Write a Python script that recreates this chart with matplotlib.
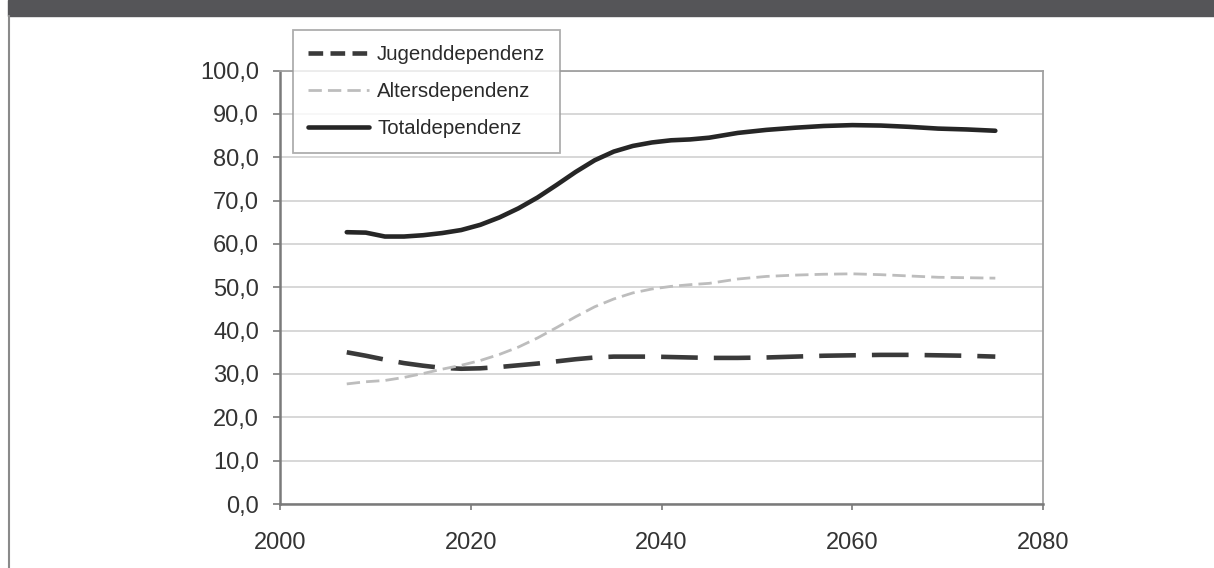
import matplotlib
matplotlib.use("Agg")
import matplotlib.pyplot as plt
from matplotlib.patches import Rectangle
from matplotlib.lines import Line2D
from matplotlib.ticker import FuncFormatter

plt.rcParams['font.family'] = ['Liberation Sans', 'DejaVu Sans']

# Jahre und Quotienten (in %)
jahre = [2007, 2009, 2011, 2013, 2015, 2017, 2019, 2021, 2023, 2025,
         2027, 2029, 2031, 2033, 2035, 2037, 2039, 2041, 2043, 2045,
         2048, 2051, 2054, 2057, 2060, 2063, 2066, 2069, 2072, 2075]
jugend = [35.0, 34.2, 33.3, 32.5, 31.9, 31.4, 31.2, 31.3, 31.6, 32.0,
          32.4, 32.9, 33.4, 33.8, 34.0, 34.0, 34.0, 33.9, 33.8, 33.7,
          33.7, 33.8, 34.0, 34.2, 34.3, 34.4, 34.4, 34.3, 34.2, 34.0]
alter = [27.7, 28.2, 28.5, 29.2, 30.1, 31.1, 32.0, 33.1, 34.5, 36.2,
         38.3, 40.7, 43.2, 45.5, 47.3, 48.7, 49.6, 50.2, 50.6, 50.9,
         51.9, 52.5, 52.8, 53.0, 53.1, 52.9, 52.6, 52.3, 52.2, 52.1]
total = [62.7, 62.6, 61.7, 61.7, 62.0, 62.5, 63.2, 64.4, 66.1, 68.2,
         70.7, 73.6, 76.6, 79.3, 81.3, 82.6, 83.4, 83.9, 84.1, 84.5,
         85.6, 86.3, 86.8, 87.2, 87.4, 87.3, 87.0, 86.6, 86.4, 86.1]

namen = ["Jugenddependenz", "Altersdependenz", "Totaldependenz"]
x_ticks = [2000, 2020, 2040, 2060, 2080]
y_ticks = [0, 10, 20, 30, 40, 50, 60, 70, 80, 90, 100]

fig = plt.figure(figsize=(12.14, 5.68), dpi=100)
fig.patch.set_facecolor("white")

# dunkler Balken oben und Rahmenlinie links
fig.patches.append(Rectangle((8 / 1214, 1 - 16 / 568), 1, 16 / 568,
                             transform=fig.transFigure, color="#555558", zorder=0))
fig.lines.append(Line2D([9 / 1214, 9 / 1214], [0, 1 - 16 / 568],
                        transform=fig.transFigure, color="#8a8a8a", lw=1.5))

ax = fig.add_axes([280 / 1214, 1 - 504 / 568, 763 / 1214, 433.5 / 568])

ax.plot(jahre, jugend, color="#3a3a3a", lw=3.3, dashes=(8.0, 3.5),
        solid_joinstyle="round", label=namen[0])
ax.plot(jahre, alter, color="#bdbdbd", lw=2.0, dashes=(4.8, 2.2),
        label=namen[1])
ax.plot(jahre, total, color="#262626", lw=3.3, solid_joinstyle="round",
        solid_capstyle="round", label=namen[2])

ax.set_xlim(2000, 2080)
ax.set_ylim(0, 100)
ax.set_xticks(x_ticks)
ax.set_yticks(y_ticks)
ax.yaxis.set_major_formatter(FuncFormatter(lambda v, p: f"{v:.1f}".replace(".", ",")))

ax.grid(axis="y", color="#d4d4d4", lw=1.3)
ax.set_axisbelow(True)

for s in ["left", "bottom"]:
    ax.spines[s].set_color("#7a7a7a")
    ax.spines[s].set_linewidth(1.8)
for s in ["top", "right"]:
    ax.spines[s].set_color("#a0a0a0")
    ax.spines[s].set_linewidth(1.3)

ax.tick_params(axis="y", length=5, width=1.2, color="#7a7a7a", pad=10,
               labelsize=17, labelcolor="#333333")
ax.tick_params(axis="x", length=4, width=1.2, color="#7a7a7a", pad=16,
               labelsize=17, labelcolor="#333333")

leg = fig.legend(loc="upper left", bbox_to_anchor=(293 / 1214, 1 - 30 / 568),
                 fontsize=14.7, frameon=True, fancybox=False, handlelength=3.0,
                 handletextpad=0.4, labelspacing=0.9, borderpad=0.72,
                 borderaxespad=0)
leg.get_frame().set_edgecolor("#9a9a9a")
leg.get_frame().set_linewidth(1.3)
for t in leg.get_texts():
    t.set_color("#2a2a2a")
# Strichmuster im Legendensymbol der Jugenddependenz
leg.get_lines()[0].set_dashes((3.2, 1.6))

fig.savefig("out.png", dpi=100)
